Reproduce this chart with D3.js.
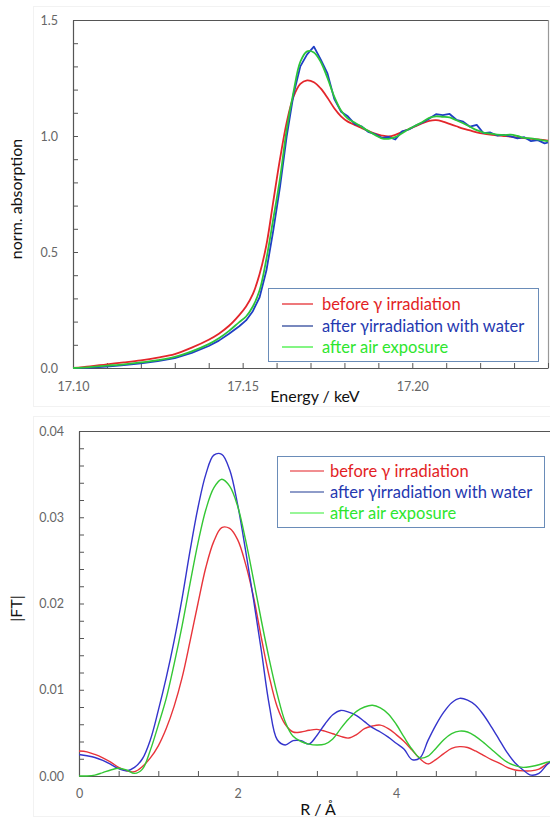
<!DOCTYPE html>
<html>
<head>
<meta charset="utf-8">
<script src="https://cdn.jsdelivr.net/npm/d3@7"></script>
<style>
  html, body { margin: 0; padding: 0; background: #fff; }
  svg { display: block; }
  text { font-family: Lato, "Open Sans", "Liberation Sans", sans-serif; }
</style>
</head>
<body>
<svg id="chart" width="550" height="818"></svg>
<script>
// ---- XANES (top panel) ----
const energy = [17.100, 17.105, 17.110, 17.115, 17.120, 17.125, 17.130, 17.135, 17.140, 17.143,
  17.146, 17.149, 17.151, 17.153, 17.155, 17.157, 17.159, 17.161, 17.163, 17.165,
  17.167, 17.169, 17.171, 17.173, 17.175, 17.177, 17.179, 17.181, 17.183, 17.185,
  17.187, 17.189, 17.191, 17.193, 17.195, 17.197, 17.199, 17.201, 17.203, 17.205,
  17.207, 17.209, 17.211, 17.213, 17.215, 17.217, 17.219, 17.221, 17.223, 17.225,
  17.227, 17.229, 17.231, 17.233, 17.235, 17.237, 17.239, 17.240];

const xanesBefore = [0.000, 0.007, 0.016, 0.024, 0.033, 0.045, 0.060, 0.088, 0.122, 0.148,
  0.182, 0.228, 0.265, 0.318, 0.405, 0.530, 0.715, 0.900, 1.060, 1.170,
  1.225, 1.240, 1.232, 1.205, 1.165, 1.120, 1.085, 1.062, 1.048, 1.035,
  1.022, 1.010, 1.002, 0.998, 1.005, 1.018, 1.030, 1.042, 1.055, 1.065,
  1.068, 1.062, 1.052, 1.042, 1.032, 1.024, 1.016, 1.010, 1.006, 1.003,
  1.000, 0.997, 0.993, 0.991, 0.988, 0.985, 0.982, 0.980];

const xanesWater = [0.000, 0.002, 0.006, 0.012, 0.020, 0.030, 0.043, 0.065, 0.095, 0.118,
  0.148, 0.180, 0.205, 0.245, 0.305, 0.420, 0.590, 0.780, 1.000, 1.180,
  1.300, 1.352, 1.385, 1.330, 1.270, 1.160, 1.105, 1.085, 1.052, 1.042,
  1.018, 1.008, 0.992, 0.996, 0.985, 1.020, 1.028, 1.045, 1.058, 1.075,
  1.094, 1.090, 1.095, 1.070, 1.062, 1.040, 1.048, 1.012, 1.015, 1.002,
  1.005, 0.998, 0.990, 0.995, 0.978, 0.982, 0.968, 0.972];

const xanesAir = [0.000, 0.004, 0.010, 0.016, 0.024, 0.034, 0.048, 0.072, 0.103, 0.128,
  0.160, 0.198, 0.222, 0.265, 0.335, 0.470, 0.640, 0.815, 1.030, 1.190,
  1.320, 1.365, 1.360, 1.320, 1.250, 1.170, 1.110, 1.075, 1.058, 1.040,
  1.022, 1.005, 0.990, 0.988, 0.995, 1.012, 1.030, 1.045, 1.060, 1.078,
  1.085, 1.083, 1.080, 1.068, 1.055, 1.040, 1.025, 1.015, 1.010, 1.006,
  1.004, 1.006, 1.000, 0.992, 0.990, 0.985, 0.980, 0.977];

const energyTicks = [17.10, 17.15, 17.20];
const absorptionTicks = [0.0, 0.5, 1.0, 1.5];

// ---- Fourier transform (bottom panel) ----
const radius = [0.0, 0.1, 0.2, 0.3, 0.4, 0.5, 0.6, 0.7, 0.8, 0.9,
  1.0, 1.1, 1.2, 1.3, 1.4, 1.5, 1.6, 1.7, 1.8, 1.9,
  2.0, 2.1, 2.2, 2.3, 2.4, 2.5, 2.6, 2.7, 2.8, 2.9,
  3.0, 3.1, 3.2, 3.3, 3.4, 3.5, 3.6, 3.7, 3.8, 3.9,
  4.0, 4.1, 4.2, 4.3, 4.4, 4.5, 4.6, 4.7, 4.8, 4.9,
  5.0, 5.1, 5.2, 5.3, 5.4, 5.5, 5.6, 5.7, 5.8, 5.9, 6.0];

const ftBefore = [0.0029, 0.0028, 0.0025, 0.0021, 0.0016, 0.0010, 0.0006, 0.0005, 0.0011, 0.0021,
  0.0035, 0.0055, 0.0081, 0.0114, 0.0156, 0.0200, 0.0242, 0.0272, 0.0288, 0.0287,
  0.0274, 0.0246, 0.0208, 0.0160, 0.0115, 0.0080, 0.0060, 0.0051, 0.0051, 0.0053,
  0.0054, 0.0052, 0.0049, 0.0046, 0.0044, 0.0048, 0.0055, 0.0058, 0.0059, 0.0055,
  0.0048, 0.0040, 0.0030, 0.0020, 0.0014, 0.0019, 0.0026, 0.0032, 0.0034, 0.0033,
  0.0029, 0.0024, 0.0019, 0.0015, 0.0010, 0.0007, 0.0006, 0.0006, 0.0008, 0.0014, 0.0019];

const ftWater = [0.0025, 0.00235, 0.00215, 0.0018, 0.00135, 0.00085, 0.0006, 0.0010, 0.0020, 0.0042,
  0.0076, 0.0114, 0.0157, 0.0206, 0.0261, 0.0311, 0.0350, 0.0372, 0.0373, 0.0355,
  0.0315, 0.0262, 0.0205, 0.0145, 0.0082, 0.0042, 0.0036, 0.0041, 0.0041, 0.0037,
  0.0047, 0.0060, 0.0071, 0.0076, 0.0074, 0.0070, 0.0063, 0.0056, 0.0051, 0.0045,
  0.0038, 0.0031, 0.0019, 0.0021, 0.0041, 0.0059, 0.0074, 0.0085, 0.0090, 0.0088,
  0.0082, 0.0071, 0.0057, 0.0042, 0.0027, 0.0015, 0.0007, 0.0001, 0.0003, 0.0013, 0.0020];

const ftAir = [0.0000, 0.0000, 0.0001, 0.0004, 0.0007, 0.0009, 0.0007, 0.0003, 0.0008, 0.0030,
  0.0059, 0.0090, 0.0130, 0.0174, 0.0223, 0.0270, 0.0309, 0.0334, 0.0344, 0.0336,
  0.0313, 0.0274, 0.0228, 0.0180, 0.0135, 0.0095, 0.0063, 0.0046, 0.0040, 0.0037,
  0.0036, 0.0037, 0.0043, 0.0055, 0.0066, 0.0075, 0.0080, 0.0082, 0.0079, 0.0072,
  0.0060, 0.0045, 0.0031, 0.0021, 0.0023, 0.0032, 0.0042, 0.0049, 0.0052, 0.0051,
  0.0046, 0.0039, 0.0031, 0.0023, 0.0016, 0.0012, 0.0010, 0.0011, 0.0013, 0.0016, 0.0018];

const radiusTicks = [0, 2, 4];
const ftTicks = [0.00, 0.01, 0.02, 0.03, 0.04];

const seriesNames = ["before \u03b3 irradiation", "after \u03b3irradiation with water", "after air exposure"];

const svg = d3.select("#chart");
const axisColor = "#555";
const tickTextColor = "#666";

// faint outer frames of the two panels
svg.append("rect").attr("x", 33.5).attr("y", 6.5).attr("width", 530).attr("height", 400)
  .attr("fill", "none").attr("stroke", "#f2f2f2");
svg.append("rect").attr("x", 33.5).attr("y", 416.5).attr("width", 530).attr("height", 400)
  .attr("fill", "none").attr("stroke", "#f2f2f2");

function styleAxis(g) {
  g.select(".domain").attr("stroke", axisColor).attr("stroke-width", 1.2);
  g.selectAll(".tick line").attr("stroke", axisColor);
  g.selectAll(".tick text").attr("fill", tickTextColor).attr("font-size", 12.5);
}

function drawLegend(x, y, w, h, lineX0, lineX1, textX, rowYs, colors, lineColors) {
  const lg = svg.append("g");
  lg.append("rect").attr("x", x + 0.5).attr("y", y + 0.5).attr("width", w).attr("height", h)
    .attr("fill", "#fff").attr("stroke", "#6a8cb8").attr("stroke-width", 1);
  seriesNames.forEach((name, i) => {
    lg.append("line").attr("x1", lineX0).attr("x2", lineX1).attr("y1", rowYs[i]).attr("y2", rowYs[i])
      .attr("stroke", lineColors[i]).attr("stroke-width", 1.2);
    lg.append("text").attr("x", textX).attr("y", rowYs[i]).attr("dy", "0.35em")
      .attr("font-size", 16.5).attr("fill", colors[i]).text(name);
  });
}

// ================= Top panel: normalized absorption =================
(function () {
  const left = 73, right = 548, top = 20, bottom = 368;
  const x = d3.scaleLinear().domain([17.10, 17.24]).range([left, right]);
  const y = d3.scaleLinear().domain([0, 1.5]).range([bottom, top]);

  const xMinor = d3.range(17.10, 17.2401, 0.01).map(v => +v.toFixed(2));
  const yMinor = d3.range(0, 1.501, 0.1).map(v => +v.toFixed(1));

  // frame: top and right edges
  svg.append("line").attr("x1", left).attr("x2", right).attr("y1", top + 0.5).attr("y2", top + 0.5)
    .attr("stroke", axisColor).attr("stroke-width", 1.2);
  svg.append("line").attr("x1", right + 0.5).attr("x2", right + 0.5).attr("y1", top).attr("y2", bottom)
    .attr("stroke", "#999").attr("stroke-width", 1.2);

  const gx = svg.append("g").attr("transform", `translate(0,${bottom})`)
    .call(d3.axisBottom(x).tickValues(xMinor).tickSizeInner(-5).tickSizeOuter(0).tickPadding(14)
      .tickFormat(d => energyTicks.some(t => Math.abs(t - d) < 1e-6) ? d3.format(".2f")(d) : ""));
  styleAxis(gx);

  const gy = svg.append("g").attr("transform", `translate(${left},0)`)
    .call(d3.axisLeft(y).tickValues(yMinor).tickSizeInner(-5).tickSizeOuter(0).tickPadding(15)
      .tickFormat(d => absorptionTicks.some(t => Math.abs(t - d) < 1e-6) ? d3.format(".1f")(d) : ""));
  styleAxis(gy);

  const line = d3.line().x((d, i) => x(energy[i])).y(d => y(d));
  const series = [
    { values: xanesBefore, color: "#e3262b", curve: d3.curveCatmullRom.alpha(0.5) },
    { values: xanesWater, color: "#1f3fc4", curve: d3.curveLinear },
    { values: xanesAir, color: "#2cc53a", curve: d3.curveCatmullRom.alpha(0.5) }
  ];
  series.forEach(s => {
    svg.append("path").datum(s.values)
      .attr("d", line.curve(s.curve))
      .attr("fill", "none").attr("stroke", s.color).attr("stroke-width", 1.8)
      .attr("stroke-linejoin", "round");
  });

  svg.append("text").attr("transform", `translate(22,${(top + bottom) / 2 + 5}) rotate(-90)`)
    .attr("text-anchor", "middle").attr("font-size", 16).attr("fill", "#111")
    .text("norm. absorption");
  svg.append("text").attr("x", 315).attr("y", 402).attr("text-anchor", "middle")
    .attr("font-size", 16).attr("fill", "#111").text("Energy / keV");

  drawLegend(268, 288, 270, 73, 282, 313, 322, [304, 326, 347],
    ["#e31e24", "#2438b0", "#2ee62e"], ["#e31e24", "#1f3a93", "#33ee33"]);
})();

// ================= Bottom panel: |FT| =================
(function () {
  const left = 79, top = 431, bottom = 776;
  const pxPerUnit = 79.3;
  const rMax = 6.0;
  const x = d3.scaleLinear().domain([0, rMax]).range([left, left + rMax * pxPerUnit]);
  const y = d3.scaleLinear().domain([0, 0.04]).range([bottom, top]);

  const xMinor = d3.range(0, rMax + 0.001, 0.5);
  const yMinor = d3.range(0, 0.0401, 0.002).map(v => +v.toFixed(3));

  svg.append("line").attr("x1", left).attr("x2", 550).attr("y1", top + 0.5).attr("y2", top + 0.5)
    .attr("stroke", axisColor).attr("stroke-width", 1.2);

  const gx = svg.append("g").attr("transform", `translate(0,${bottom})`)
    .call(d3.axisBottom(x).tickValues(xMinor).tickSizeInner(-5).tickSizeOuter(0).tickPadding(13)
      .tickFormat(d => radiusTicks.includes(d) ? d3.format("d")(d) : ""));
  styleAxis(gx);

  const gy = svg.append("g").attr("transform", `translate(${left},0)`)
    .call(d3.axisLeft(y).tickValues(yMinor).tickSizeInner(-5).tickSizeOuter(0).tickPadding(15)
      .tickFormat(d => ftTicks.some(t => Math.abs(t - d) < 1e-9) ? d3.format(".2f")(d) : ""));
  styleAxis(gy);

  const line = d3.line().x((d, i) => x(radius[i])).y(d => y(d)).curve(d3.curveCatmullRom.alpha(0.5));
  const series = [
    { values: ftBefore, color: "#e8343a" },
    { values: ftWater, color: "#3434cc" },
    { values: ftAir, color: "#34c734" }
  ];
  series.forEach(s => {
    svg.append("path").datum(s.values).attr("d", line)
      .attr("fill", "none").attr("stroke", s.color).attr("stroke-width", 1.4);
  });

  svg.append("text").attr("transform", `translate(22,${(top + bottom) / 2 + 5}) rotate(-90)`)
    .attr("text-anchor", "middle").attr("font-size", 16).attr("fill", "#111").text("|FT|");
  svg.append("text").attr("x", 318).attr("y", 815).attr("text-anchor", "middle")
    .attr("font-size", 16).attr("fill", "#111").text("R / \u00c5");

  drawLegend(277, 456, 267, 71, 290, 324, 330, [471, 492, 513],
    ["#e31e24", "#2438b0", "#2ee62e"], ["#e31e24", "#1f3a93", "#33ee33"]);
})();
</script>
</body>
</html>
